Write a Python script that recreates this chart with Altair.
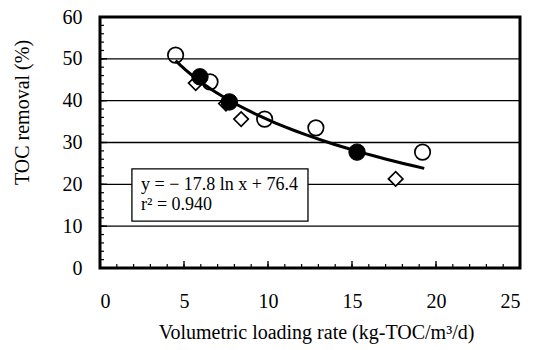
import altair as alt
import pandas as pd

# ---- data ----
open_x = [4.5, 6.55, 9.8, 12.85, 19.2]
open_y = [50.9, 44.5, 35.6, 33.5, 27.7]
filled_x = [5.95, 7.7, 15.3]
filled_y = [45.7, 39.7, 27.7]
diamond_x = [5.7, 7.5, 8.4, 17.6]
diamond_y = [44.2, 39.3, 35.6, 21.3]

x_major = [0, 5, 10, 15, 20, 25]
y_major = [0, 10, 20, 30, 40, 50, 60]
x_minor = list(range(0, 26))
y_minor = list(range(0, 61, 2))
grid_vals = [10, 20, 30, 40, 50]

fit_extent = [4.5, 19.3]
eq_text = ["y = \u2212 17.8 ln x + 76.4", "r\u00b2 = 0.940"]
eq_x = [2.44, 2.44]
eq_y = [19.8, 15.1]
box_x = [1.9]
box_x2 = [12.38]
box_y = [11.2]
box_y2 = [23.7]

W, H = 420, 251
FONT = "Liberation Serif"

pts = pd.DataFrame({
    "x": open_x + filled_x + diamond_x,
    "y": open_y + filled_y + diamond_y,
})
open_df = pd.DataFrame({"x": open_x, "y": open_y})
filled_df = pd.DataFrame({"x": filled_x, "y": filled_y})
diamond_df = pd.DataFrame({"x": diamond_x, "y": diamond_y})

xs = alt.Scale(domain=[0, 25], nice=False, zero=False)
ys = alt.Scale(domain=[0, 60], nice=False, zero=False)

X = alt.X("x:Q", scale=xs, axis=alt.Axis(
    values=x_major, title="Volumetric loading rate (kg-TOC/m\u00b3/d)",
    grid=False, domain=False, ticks=False, labelPadding=23,
    labelFont=FONT, labelFontSize=20, labelColor="black",
    titleFont=FONT, titleFontSize=20, titleFontWeight="normal", titleColor="black",
    titleX=216, titleY=64, titleBaseline="middle"))
Y = alt.Y("y:Q", scale=ys, axis=alt.Axis(
    values=y_major, title="TOC removal (%)",
    grid=False, domain=False, ticks=False, labelPadding=18,
    labelFont=FONT, labelFontSize=20, labelColor="black",
    titleFont=FONT, titleFontSize=20, titleFontWeight="normal", titleColor="black",
    titleX=-78, titleY=95, titleBaseline="middle", titleAngle=-90))

grid = alt.Chart(pd.DataFrame({"g": grid_vals})).mark_rule(color="black", strokeWidth=1.3).encode(
    y=alt.Y("g:Q", scale=ys), x=alt.value(0), x2=alt.value(W))

xt = alt.Chart(pd.DataFrame({"t": x_minor})).mark_rule(color="black", strokeWidth=1.2).encode(
    x=alt.X("t:Q", scale=xs), y=alt.value(H), y2=alt.value(H - 4))
xT = alt.Chart(pd.DataFrame({"t": x_major})).mark_rule(color="black", strokeWidth=1.4).encode(
    x=alt.X("t:Q", scale=xs), y=alt.value(H), y2=alt.value(H - 7))
yt = alt.Chart(pd.DataFrame({"t": y_minor})).mark_rule(color="black", strokeWidth=1.2).encode(
    y=alt.Y("t:Q", scale=ys), x=alt.value(0), x2=alt.value(4))
yT = alt.Chart(pd.DataFrame({"t": y_major})).mark_rule(color="black", strokeWidth=1.4).encode(
    y=alt.Y("t:Q", scale=ys), x=alt.value(0), x2=alt.value(7))

box = alt.Chart(pd.DataFrame({"x": box_x, "x2": box_x2, "y": box_y, "y2": box_y2})).mark_rect(
    fill="white", stroke="black", strokeWidth=1.3).encode(
    x=alt.X("x:Q", scale=xs), x2="x2:Q", y=alt.Y("y:Q", scale=ys), y2="y2:Q")

eq = alt.Chart(pd.DataFrame({"x": eq_x, "y": eq_y, "t": eq_text})).mark_text(
    align="left", baseline="middle", font=FONT, fontSize=18, color="black").encode(
    x=alt.X("x:Q", scale=xs), y=alt.Y("y:Q", scale=ys), text="t:N")

fit = alt.Chart(pts).transform_regression("x", "y", method="log", extent=fit_extent).mark_line(
    color="black", strokeWidth=3).encode(x=alt.X("x:Q", scale=xs), y=alt.Y("y:Q", scale=ys))

open_m = alt.Chart(open_df).mark_point(shape="circle", size=240, filled=True, fill="white",
                                       stroke="black", strokeWidth=1.7, opacity=1).encode(x=X, y=Y)
diam_m = alt.Chart(diamond_df).mark_point(shape="diamond", size=210, filled=True, fill="white",
                                          stroke="black", strokeWidth=1.7, opacity=1).encode(
    x=alt.X("x:Q", scale=xs), y=alt.Y("y:Q", scale=ys))
fill_m = alt.Chart(filled_df).mark_point(shape="circle", size=270, filled=True, fill="black",
                                         stroke="black", strokeWidth=1, opacity=1).encode(
    x=alt.X("x:Q", scale=xs), y=alt.Y("y:Q", scale=ys))

chart = alt.layer(open_m, grid, xt, xT, yt, yT, box, eq, diam_m, fit, fill_m).properties(
    width=W, height=H,
    autosize=alt.AutoSizeParams(type="none"),
    padding={"left": 100, "top": 17, "right": 13, "bottom": 82},
    background="white",
).configure_view(stroke="black", strokeWidth=3)

chart.save("out.html", embed_options={"renderer": "svg", "actions": False})
